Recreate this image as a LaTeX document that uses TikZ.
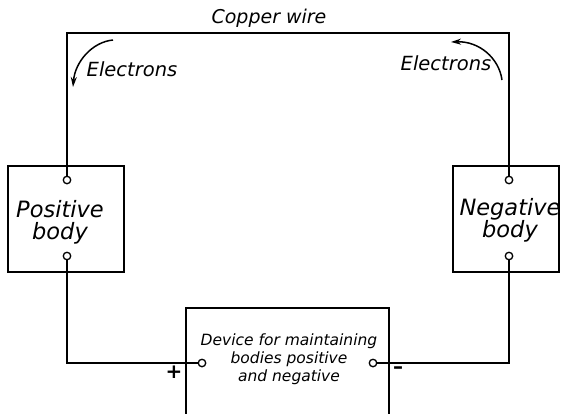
\documentclass[tikz,border=0pt]{standalone}
\usepackage{fontspec}
\setmainfont{DejaVu Sans}
\usetikzlibrary{arrows.meta}

\tikzset{
  wire/.style={line width=1.6pt, line join=miter},
  bodybox/.style={draw, line width=2.3pt, minimum width=#1, minimum height=106pt, inner sep=0pt},
  term/.style={draw, circle, fill=white, line width=1.3pt, inner sep=0pt, minimum size=7.5pt},
  flow/.style={line width=1.5pt, -{Stealth[length=10pt, width=6pt]}},
  bodytext/.style={font=\fontsize{22.5}{22}\selectfont\itshape, align=center, inner sep=0pt},
  labeltext/.style={font=\fontsize{19.5}{20}\selectfont\itshape, inner sep=0pt},
  sign/.style={font=\fontsize{20}{20}\selectfont\bfseries, inner sep=0pt}
}

\begin{document}
\begin{tikzpicture}[x=1pt, y=-1pt]
            \useasboundingbox (0,0) rectangle (563,413);
            \clip (0,0) rectangle (563,413);

            % The two bodies
            \node[bodybox=116pt] (pos) at (66,219) {};
            \node[bodybox=106pt] (neg) at (506,219) {};
            \node[bodytext] (poslbl) at (60,222) {Positive\\body};
            \node[bodytext] (neglbl) at (510,220) {Negative\\body};

            % Device, runs off the bottom edge
            \node[draw, line width=2.3pt, minimum width=203pt, minimum height=140pt] (dev) at (287.5,378) {};
            \node[font=\fontsize{15.5}{18}\selectfont\itshape, align=center, inner sep=0pt] (devlbl)
                at (289,359) {Device for maintaining\\bodies positive\\and negative};

            % Terminals
            \node[term] (pa) at (67,180) {};
            \node[term] (pb) at (67,256) {};
            \node[term] (na) at (509,180) {};
            \node[term] (nb) at (509,256) {};
            \node[term] (dp) at (202,363) {};
            \node[term] (dn) at (373,363) {};

            % Copper wire over the top
            \coordinate (tl) at (67,33);
            \coordinate (tr) at (509,33);
            \draw[wire] (pa) -- (tl) -- (tr) -- (na);
            \node[font=\fontsize{19}{20}\selectfont\itshape, inner sep=0pt] (cu) at (269,18) {Copper wire};

            % Wires to the device
            \draw[wire] (pb) |- (dp);
            \draw[wire] (nb) |- (dn);
            \node[sign] (plus) at (174,372) {+};
            \node[sign] (minus) at (398,370) {--};

            % Electron flow
            \coordinate (la) at (113,40);
            \coordinate (lb) at (73,87);
            \draw[flow] (la) .. controls (92,42) and (75,62) .. (lb);
            \node[labeltext] (lel) at (132,69) {Electrons};
            \coordinate (ra) at (502,80);
            \coordinate (rb) at (451,42);
            \draw[flow] (ra) .. controls (499,58) and (479,41) .. (rb);
            \node[labeltext] (rel) at (446,63) {Electrons};
        \end{tikzpicture}
\end{document}
